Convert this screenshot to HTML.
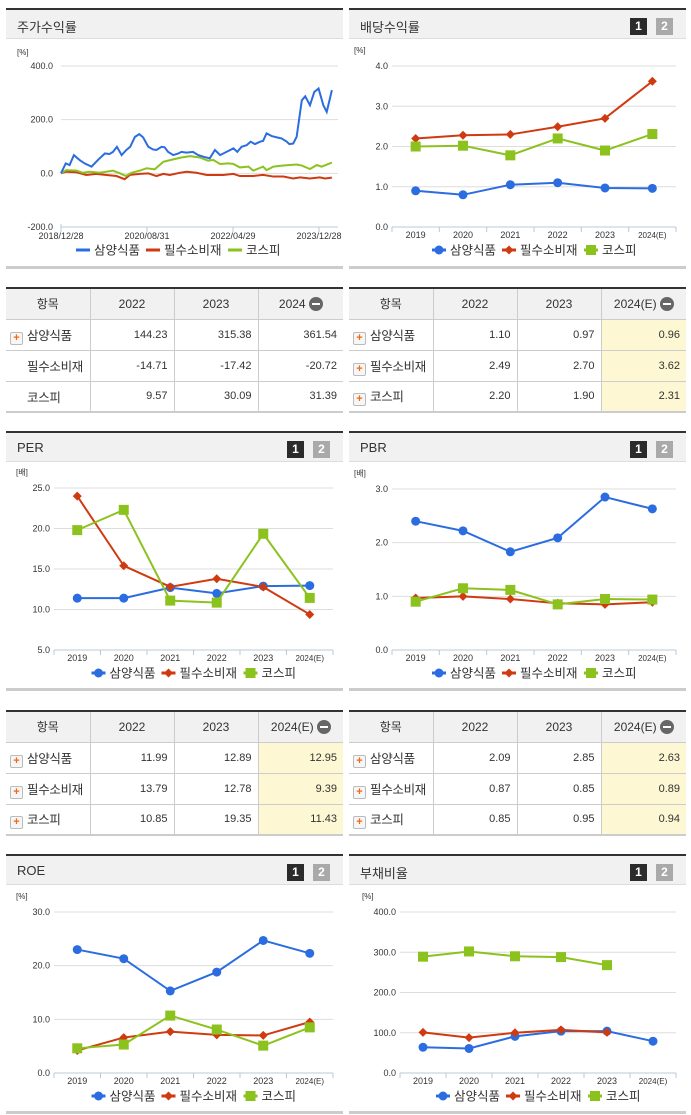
<!DOCTYPE html>
<html><head><meta charset="utf-8">
<style>
body{margin:0;width:691px;height:1115px;background:#fff;position:relative;overflow:hidden;font-family:"Liberation Sans","Noto Sans CJK KR",sans-serif;color:#333}
.ph{position:absolute;height:31px;background:#f1f1f1;border-top:2px solid #333;border-bottom:1px solid #ddd;box-sizing:border-box}
.ph .t{position:absolute;left:11px;top:7px;font-size:13px;color:#333}
.b1,.b2{position:absolute;top:8px;width:17px;height:17px;font-size:12px;font-weight:bold;color:#fff;text-align:center;line-height:17px}
.b1{background:#2b2b2b}.b2{background:#a9a9a9}
.pb{position:absolute;height:3px;background:#ccc}
table{position:absolute;border-collapse:collapse;font-size:12px;border-top:2px solid #333;border-bottom:2px solid #ccc;table-layout:fixed}
td,th{border:1px solid #ccc;height:31px;padding:0 6px;box-sizing:border-box;white-space:nowrap;overflow:hidden}
th{background:#f1f1f1;font-weight:normal;font-size:12px;text-align:center}
td{text-align:right;font-size:11px}
td.l{text-align:left;font-size:12.5px;padding-left:4px;padding-right:0;letter-spacing:-0.3px}
td.y{background:#fdf7d3}
tr>*:first-child{border-left:none}tr>*:last-child{border-right:none}
.pl{display:inline-block;width:11px;height:11px;border:1px solid #bbb;border-radius:2px;background:#f6f6f6;color:#f26a0f;font-size:11px;line-height:11px;text-align:center;font-weight:bold;vertical-align:-1px;margin-right:4px;letter-spacing:0}
.sp{display:inline-block;width:17px}
.mi{display:inline-block;width:14px;height:14px;border-radius:7px;background:#666;vertical-align:-3px;margin-left:3px;position:relative}
.mi:after{content:"";position:absolute;left:3px;top:6px;width:8px;height:2px;background:#fff}
</style></head><body>
<svg id="cv" width="691" height="1115" style="position:absolute;left:0;top:0"></svg>
<script>
// ---- data ----
const years=["2019","2020","2021","2022","2023","2024(E)"];
const seriesNames=["삼양식품","필수소비재","코스피"];
const divSam=[0.9,0.8,1.05,1.10,0.97,0.96];
const divCons=[2.2,2.28,2.3,2.49,2.70,3.62];
const divKospi=[2.0,2.02,1.78,2.20,1.90,2.31];
const perSam=[11.4,11.4,12.7,11.99,12.89,12.95];
const perCons=[24.0,15.4,12.8,13.79,12.78,9.39];
const perKospi=[19.8,22.3,11.1,10.85,19.35,11.43];
const pbrSam=[2.4,2.22,1.83,2.09,2.85,2.63];
const pbrCons=[0.97,1.0,0.95,0.87,0.85,0.89];
const pbrKospi=[0.9,1.15,1.12,0.85,0.95,0.94];
const roeSam=[23.0,21.3,15.3,18.8,24.7,22.3];
const roeCons=[4.2,6.6,7.7,7.1,7.0,9.5];
const roeKospi=[4.6,5.3,10.7,8.1,5.1,8.5];
const debtSam=[64,61,91,104,104,79];
const debtCons=[101,88,100,107,101,null];
const debtKospi=[289,302,290,288,268,null];
const retDateLabels=["2018/12/28","2020/08/31","2022/04/29","2023/12/28"];
const retDateMonths=[0,20,40,60];
const retSamM=[0,1.1,2,3,4.3,5.5,7.1,8.6,10.2,11.3,12.1,13,14.1,15.2,16.1,17.2,18.2,19.1,20.3,21.4,22.2,23.4,24.1,24.9,26.1,27.3,28,29.2,30.7,31.9,33.1,34.6,35.8,37,38.5,40.1,41,42,43.2,44.1,45.1,46.3,47,47.8,49,50.2,51.3,52.5,53.1,54,54.8,56,56.8,57.9,58.9,59.9,61,61.8,63];
const retSam=[0,37,31,68,50,37,25,50,74,72,80,99,68,87,99,136,146,134,99,89,87,99,97,80,68,74,80,77,80,68,62,56,87,68,80,93,80,99,105,118,109,118,121,149,139,134,130,118,109,111,136,272,287,254,303,316,254,229,310];
const retConsM=[0,1.2,3.6,5.9,8.2,10.6,12.9,14.8,16,18.3,20.3,22.2,23.8,25.3,27.6,29.2,31.5,33.9,35.4,37.7,40.1,41.6,44.7,47,49.4,51.7,54,55.6,57.9,60.2,61.4,63];
const retCons=[0,6,4,-6,-2,-6,-10,-22,-6,-2,0,-10,-2,-6,2,6,2,-6,-6,-6,-2,-10,-10,-6,-12,-12,-19,-15,-19,-15,-19,-16];
const retKospiM=[0,1.2,3.6,5.1,6.7,9,12.1,13.7,15.1,16.4,18.3,19.9,21.8,23.8,26.1,28,30,32.3,34.2,35.4,37,38.9,40.1,41.6,43.6,44.7,47,47.8,49.4,51.7,53.3,54.8,56,57.9,59.5,60.6,63];
const retKospi=[0,12,10,2,6,2,10,0,-10,2,10,19,15,43,52,59,64,59,47,50,35,37,35,22,25,10,25,12,25,29,31,33,29,16,31,25,40];

const C=["#2b6de0","#d03a10","#8cc21e"];
const NS="http://www.w3.org/2000/svg";
const cv=document.getElementById('cv');
function mk(tag,at,parent){const e=document.createElementNS(NS,tag);for(const k in at)e.setAttribute(k,at[k]);(parent||cv).appendChild(e);return e;}
function txt(x,y,s,at,parent){const e=mk('text',Object.assign({x:x,y:y,'font-size':9,fill:'#333','font-family':'Liberation Sans, Noto Sans CJK KR, sans-serif'},at),parent);e.textContent=s;return e;}
function marker(g,i,x,y){
  let m;
  if(i==0)m=mk('circle',{cx:x,cy:y,r:4.5,fill:C[0]},g);
  else if(i==1)m=mk('path',{d:`M${x} ${y-4.5}L${x+4.5} ${y}L${x} ${y+4.5}L${x-4.5} ${y}Z`,fill:C[1]},g);
  else m=mk('rect',{x:x-5,y:y-5,width:10,height:10,fill:C[2]},g);
  
  
}
function legend(cx,y,lineStyle,name){
  const g=mk('g',{});
  
  
  const w=[70,82,52];let tot=w.reduce((a,b)=>a+b);let x=cx-tot/2;
  seriesNames.forEach((s,i)=>{
    const e=mk('g',{},g);
    
    
    mk('line',{x1:x,x2:x+14,y1:y,y2:y,stroke:C[i],'stroke-width':3},e);
    if(!lineStyle)marker(e,i,x+7,y);
    txt(x+18,y+4.5,s,{'font-size':12.5},e);
    x+=w[i];
  });
}
function catChart(name,x0,x1,yT,yB,vmin,vmax,step,unit,series){
  const g=mk('g',{});
  
  
  const ys=v=>yB-(v-vmin)/(vmax-vmin)*(yB-yT);
  const bw=(x1-x0)/years.length;const xs=i=>x0+bw*(i+0.5);
  for(let v=vmin;v<=vmax+1e-9;v+=step){
    const y=ys(v);
    if(v>vmin)mk('line',{x1:x0,x2:x1,y1:y,y2:y,stroke:'#ddd'},g);
    const t=txt(x0-4,y+3,v.toFixed(1),{'text-anchor':'end'},g);
    
    
  }
  mk('line',{x1:x0,x2:x1,y1:yB,y2:yB,stroke:'#b8c8d8'},g);
  for(let i=0;i<=years.length;i++)mk('line',{x1:x0+bw*i,x2:x0+bw*i,y1:yB,y2:yB+5,stroke:'#b8c8d8'},g);
  years.forEach((s,i)=>{const t=txt(xs(i),yB+11,s,{'text-anchor':'middle','font-size':i==5?8:9},g);
    });
  const u=txt(x0-38,yT-13,unit,{'font-size':8},g);
  
  series.forEach((d,si)=>{
    let pts=[];d.forEach((v,i)=>{if(v!==null)pts.push([xs(i),ys(v)]);});
    const p=mk('polyline',{points:pts.map(p=>p.join(',')).join(' '),fill:'none',stroke:C[si],'stroke-width':2},g);
    
    
    pts.forEach(q=>marker(g,si,q[0],q[1]));
  });
  legend((x0+x1)/2,yB+23,false,name);
}
(function(){
  const x0=61,x1=338,yT=66,yB=227,vmin=-200,vmax=400;
  const g=mk('g',{});
  
  
  const ys=v=>yB-(v-vmin)/(vmax-vmin)*(yB-yT);
  const xs=m=>x0+m*(319-61)/60;
  for(let v=vmin;v<=vmax;v+=200){const y=ys(v);
    if(v>vmin)mk('line',{x1:x0,x2:x1,y1:y,y2:y,stroke:'#ddd'},g);
    const t=txt(x0-8,y+3,v.toFixed(1),{'text-anchor':'end'},g);
    }
  mk('line',{x1:x0,x2:x1,y1:yB,y2:yB,stroke:'#b8c8d8'},g);
  mk('line',{x1:x0,x2:x0,y1:yB-3,y2:yB+4,stroke:'#b8c8d8'},g);
  retDateMonths.forEach((m,i)=>{mk('line',{x1:xs(m),x2:xs(m),y1:yB,y2:yB+5,stroke:'#b8c8d8'},g);
    const t=txt(xs(m),yB+12,retDateLabels[i],{'text-anchor':'middle'},g);
    });
  const u=txt(17,55,'[%]',{'font-size':8},g);
  
  [[retConsM,retCons,1],[retKospiM,retKospi,2],[retSamM,retSam,0]].forEach(([m,v,si])=>{
    const p=mk('polyline',{points:m.map((mm,i)=>xs(mm)+','+ys(v[i])).join(' '),fill:'none',stroke:C[si],'stroke-width':2},g);
    
    
  });
  legend(178,250,true,'stock-return');
})();
catChart('dividend-yield',392,676,66,227,0,4,1,'[%]',[divSam,divCons,divKospi]);
catChart('per',54,333,488,650,5,25,5,'[배]',[perSam,perCons,perKospi]);
catChart('pbr',392,676,489,650,0,3,1,'[배]',[pbrSam,pbrCons,pbrKospi]);
catChart('roe',54,333,912,1073,0,30,10,'[%]',[roeSam,roeCons,roeKospi]);
catChart('debt-ratio',400,676,912,1073,0,400,100,'[%]',[debtSam,debtCons,debtKospi]);
</script>

<div class="ph" style="left:6px;top:8px;width:337px"><span class="t">주가수익률</span></div>
<div class="pb" style="left:6px;top:266px;width:337px"></div>
<div class="ph" style="left:349px;top:8px;width:337px"><span class="t">배당수익률</span><span class="b1" style="left:281px">1</span><span class="b2" style="left:307px">2</span></div>
<div class="pb" style="left:349px;top:266px;width:337px"></div>

<div class="ph" style="left:6px;top:431px;width:337px"><span class="t">PER</span><span class="b1" style="left:281px">1</span><span class="b2" style="left:307px">2</span></div>
<div class="pb" style="left:6px;top:688px;width:337px"></div>
<div class="ph" style="left:349px;top:431px;width:337px"><span class="t">PBR</span><span class="b1" style="left:281px">1</span><span class="b2" style="left:307px">2</span></div>
<div class="pb" style="left:349px;top:688px;width:337px"></div>

<div class="ph" style="left:6px;top:854px;width:337px"><span class="t">ROE</span><span class="b1" style="left:281px">1</span><span class="b2" style="left:307px">2</span></div>
<div class="pb" style="left:6px;top:1111px;width:337px"></div>
<div class="ph" style="left:349px;top:854px;width:337px"><span class="t">부채비율</span><span class="b1" style="left:281px">1</span><span class="b2" style="left:307px">2</span></div>
<div class="pb" style="left:349px;top:1111px;width:337px"></div>

<table style="left:6px;top:287px;width:337px">
<colgroup><col style="width:84px"><col style="width:84px"><col style="width:84px"><col style="width:85px"></colgroup>
<tr><th>항목</th><th>2022</th><th>2023</th><th>2024<span class="mi"></span></th></tr>
<tr><td class="l"><span class="pl">+</span>삼양식품</td><td>144.23</td><td>315.38</td><td>361.54</td></tr>
<tr><td class="l"><span class="sp"></span>필수소비재</td><td>-14.71</td><td>-17.42</td><td>-20.72</td></tr>
<tr><td class="l"><span class="sp"></span>코스피</td><td>9.57</td><td>30.09</td><td>31.39</td></tr>
</table>
<table style="left:349px;top:287px;width:337px">
<colgroup><col style="width:84px"><col style="width:84px"><col style="width:84px"><col style="width:85px"></colgroup>
<tr><th>항목</th><th>2022</th><th>2023</th><th>2024(E)<span class="mi"></span></th></tr>
<tr><td class="l"><span class="pl">+</span>삼양식품</td><td>1.10</td><td>0.97</td><td class="y">0.96</td></tr>
<tr><td class="l"><span class="pl">+</span>필수소비재</td><td>2.49</td><td>2.70</td><td class="y">3.62</td></tr>
<tr><td class="l"><span class="pl">+</span>코스피</td><td>2.20</td><td>1.90</td><td class="y">2.31</td></tr>
</table>
<table style="left:6px;top:710px;width:337px">
<colgroup><col style="width:84px"><col style="width:84px"><col style="width:84px"><col style="width:85px"></colgroup>
<tr><th>항목</th><th>2022</th><th>2023</th><th>2024(E)<span class="mi"></span></th></tr>
<tr><td class="l"><span class="pl">+</span>삼양식품</td><td>11.99</td><td>12.89</td><td class="y">12.95</td></tr>
<tr><td class="l"><span class="pl">+</span>필수소비재</td><td>13.79</td><td>12.78</td><td class="y">9.39</td></tr>
<tr><td class="l"><span class="pl">+</span>코스피</td><td>10.85</td><td>19.35</td><td class="y">11.43</td></tr>
</table>
<table style="left:349px;top:710px;width:337px">
<colgroup><col style="width:84px"><col style="width:84px"><col style="width:84px"><col style="width:85px"></colgroup>
<tr><th>항목</th><th>2022</th><th>2023</th><th>2024(E)<span class="mi"></span></th></tr>
<tr><td class="l"><span class="pl">+</span>삼양식품</td><td>2.09</td><td>2.85</td><td class="y">2.63</td></tr>
<tr><td class="l"><span class="pl">+</span>필수소비재</td><td>0.87</td><td>0.85</td><td class="y">0.89</td></tr>
<tr><td class="l"><span class="pl">+</span>코스피</td><td>0.85</td><td>0.95</td><td class="y">0.94</td></tr>
</table>
</body></html>
